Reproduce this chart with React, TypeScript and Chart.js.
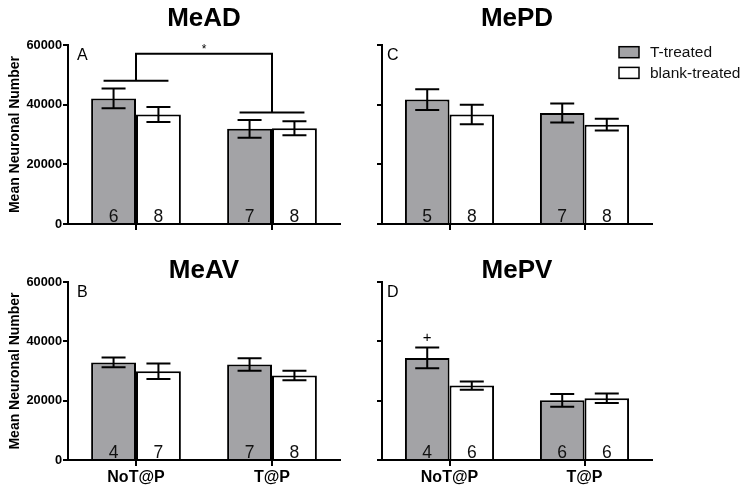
import React, { useEffect, useRef } from 'react';
import { Chart, registerables } from 'chart.js';

Chart.register(...registerables);

const FONT = '"Liberation Sans", Arial, Helvetica, sans-serif';
Chart.defaults.font.family = FONT;

// ---- data ----
const categories = ['NoT@P', 'T@P'];
const seriesNames = ['T-treated', 'blank-treated'];
const yTickValues = [0, 20000, 40000, 60000];
const yAxisTitle = 'Mean Neuronal Number';

// MeAD (A)
const meadT = [42100, 31900];
const meadTErr = [3300, 3000];
const meadTN = [6, 7];
const meadB = [36700, 32100];
const meadBErr = [2550, 2350];
const meadBN = [8, 8];
// significance bracket (A): group-line levels and top level
const meadBracketLevels = [48000, 37400];
const meadBracketTop = 57100;

// MePD (C)
const mepdT = [41700, 37200];
const mepdTErr = [3500, 3200];
const mepdTN = [5, 7];
const mepdB = [36700, 33300];
const mepdBErr = [3300, 2000];
const mepdBN = [8, 8];

// MeAV (B)
const meavT = [32900, 32200];
const meavTErr = [1650, 2100];
const meavTN = [4, 7];
const meavB = [29900, 28500];
const meavBErr = [2600, 1600];
const meavBN = [7, 8];

// MePV (D)
const mepvT = [34400, 20100];
const mepvTErr = [3500, 2150];
const mepvTN = [4, 6];
const mepvB = [25100, 20800];
const mepvBErr = [1400, 1600];
const mepvBN = [6, 6];
const mepvPlusValue = 41500;

const GRAY = '#a3a3a6';

const decorPlugin = {
  id: 'decor',
  afterDatasetsDraw(chart: any) {
    const o = chart.options.plugins.decor;
    if (!o) return;
    const ctx = chart.ctx;
    const ca = chart.chartArea;
    const ys = chart.scales.y;
    ctx.save();
    ctx.strokeStyle = '#000';
    ctx.fillStyle = '#000';
    ctx.lineWidth = 2;

    // error bars & counts
    const errs = [o.tErr, o.bErr];
    const ns = [o.tN, o.bN];
    for (let d = 0; d < 2; d++) {
      const meta = chart.getDatasetMeta(d);
      meta.data.forEach((el: any, i: number) => {
        const v = chart.data.datasets[d].data[i];
        const e = errs[d][i];
        const yT = ys.getPixelForValue(v + e);
        const yB = ys.getPixelForValue(v - e);
        ctx.beginPath();
        ctx.moveTo(el.x, yT);
        ctx.lineTo(el.x, yB);
        ctx.moveTo(el.x - 12, yT);
        ctx.lineTo(el.x + 12, yT);
        ctx.moveTo(el.x - 12, yB);
        ctx.lineTo(el.x + 12, yB);
        ctx.stroke();
        ctx.font = `17.5px ${FONT}`;
        ctx.textAlign = 'center';
        ctx.textBaseline = 'alphabetic';
        ctx.fillStyle = '#111';
        ctx.fillText(String(ns[d][i]), el.x, ca.bottom - 2);
        ctx.fillStyle = '#000';
      });
    }

    // title
    ctx.font = `bold 26px ${FONT}`;
    ctx.textAlign = 'center';
    ctx.textBaseline = 'alphabetic';
    ctx.fillText(o.title, (ca.left + ca.right) / 2, o.titleBaseline);

    // panel letter
    ctx.font = `16px ${FONT}`;
    ctx.textAlign = 'left';
    ctx.fillText(o.letter, ca.left + o.letterDx, ca.top + 14.5);

    // y axis title
    if (o.yTitle) {
      ctx.save();
      ctx.translate(15, (ca.top + ca.bottom) / 2);
      ctx.rotate(-Math.PI / 2);
      ctx.font = `bold 14px ${FONT}`;
      ctx.textAlign = 'center';
      ctx.textBaseline = 'middle';
      ctx.fillText(o.yTitle, 0, 0);
      ctx.restore();
    }

    // bracket
    if (o.bracket) {
      const m0 = chart.getDatasetMeta(0).data;
      const m1 = chart.getDatasetMeta(1).data;
      const xs = chart.scales.x;
      const yTop = ys.getPixelForValue(o.bracket.top);
      const cx: number[] = [];
      o.bracket.levels.forEach((lv: number, i: number) => {
        const y = ys.getPixelForValue(lv);
        const c = xs.getPixelForValue(i);
        cx.push(c);
        ctx.beginPath();
        ctx.moveTo(m0[i].x - 10, y);
        ctx.lineTo(m1[i].x + 10, y);
        ctx.moveTo(c, y);
        ctx.lineTo(c, yTop);
        ctx.stroke();
      });
      ctx.beginPath();
      ctx.moveTo(cx[0] - 1, yTop);
      ctx.lineTo(cx[1] + 1, yTop);
      ctx.stroke();
      ctx.font = `12px ${FONT}`;
      ctx.textAlign = 'center';
      ctx.textBaseline = 'alphabetic';
      ctx.fillText('*', (cx[0] + cx[1]) / 2, yTop - 0.5);
    }

    // plus marker
    if (o.plus) {
      const el = chart.getDatasetMeta(0).data[o.plus.index];
      ctx.font = `15px ${FONT}`;
      ctx.textAlign = 'center';
      ctx.textBaseline = 'alphabetic';
      ctx.fillText('+', el.x, ys.getPixelForValue(o.plus.value) + 5);
    }

    // legend
    if (o.legend) {
      const colors = [GRAY, '#ffffff'];
      ctx.lineWidth = 1.5;
      seriesNames.forEach((name, i) => {
        const bx = o.legend.x;
        const by = o.legend.y + i * 20.7;
        ctx.fillStyle = colors[i];
        ctx.fillRect(bx, by, 20, 11);
        ctx.strokeStyle = '#000';
        ctx.strokeRect(bx, by, 20, 11);
        ctx.fillStyle = '#111';
        ctx.font = `15.5px ${FONT}`;
        ctx.textAlign = 'left';
        ctx.textBaseline = 'alphabetic';
        ctx.fillText(name, bx + 31, by + 10.5);
      });
    }
    ctx.restore();
  },
};

type PanelProps = {
  left: number; top: number; width: number; height: number;
  t: number[]; tErr: number[]; tN: number[];
  b: number[]; bErr: number[]; bN: number[];
  title: string; titleBaseline: number; letter: string; letterDx: number;
  padTop: number; padRight: number; yWidth: number; xHeight: number;
  showYLabels: boolean; showXLabels: boolean;
  bracket?: any; plus?: any; legend?: any;
};

function Panel(p: PanelProps) {
  const ref = useRef<HTMLCanvasElement>(null);
  useEffect(() => {
    const chart = new Chart(ref.current!, {
      type: 'bar',
      data: {
        labels: categories,
        datasets: [
          { label: seriesNames[0], data: p.t, backgroundColor: GRAY, borderColor: '#000', borderWidth: 2, barPercentage: 1, categoryPercentage: 0.66 },
          { label: seriesNames[1], data: p.b, backgroundColor: '#ffffff', borderColor: '#000', borderWidth: 2, barPercentage: 1, categoryPercentage: 0.66 },
        ],
      },
      options: {
        responsive: false,
        animation: false,
        devicePixelRatio: 1,
        layout: { padding: { left: 0, top: p.padTop, right: p.padRight, bottom: 0 } },
        plugins: {
          legend: { display: false },
          tooltip: { enabled: false },
          title: { display: false },
          decor: {
            tErr: p.tErr, bErr: p.bErr, tN: p.tN, bN: p.bN,
            title: p.title, titleBaseline: p.titleBaseline,
            letter: p.letter, letterDx: p.letterDx,
            yTitle: p.showYLabels ? yAxisTitle : null,
            bracket: p.bracket, plus: p.plus, legend: p.legend,
          },
        } as any,
        scales: {
          x: {
            offset: true,
            grid: { offset: false, drawOnChartArea: false, color: '#000', lineWidth: 2, tickLength: 6 },
            border: { display: true, color: '#000', width: 2 },
            ticks: { display: p.showXLabels, color: '#000', padding: 2, font: { size: 16, weight: 'bold' } },
            afterFit: (s: any) => { s.height = p.xHeight; },
          },
          y: {
            min: 0,
            max: 60000,
            afterBuildTicks: (s: any) => { s.ticks = yTickValues.map((v) => ({ value: v })); },
            grid: { drawOnChartArea: false, color: '#000', lineWidth: 2, tickLength: 5 },
            border: { display: true, color: '#000', width: 2 },
            ticks: {
              display: p.showYLabels, color: '#000', padding: 1,
              font: { size: 12.8, weight: 'bold' },
              callback: (v: any) => String(v),
            },
            afterFit: (s: any) => { s.width = p.yWidth; },
          },
        },
      },
      plugins: [decorPlugin],
    } as any);
    return () => chart.destroy();
  }, []);
  return (
    <div style={{ position: 'absolute', left: p.left, top: p.top, width: p.width, height: p.height }}>
      <canvas ref={ref} width={p.width} height={p.height} style={{ width: p.width, height: p.height, display: 'block' }} />
    </div>
  );
}

export default function App() {
  return (
    <div style={{ position: 'absolute', left: 0, top: 0, width: 751, height: 492, background: '#fff', overflow: 'hidden' }}>
      <Panel left={0} top={0} width={375} height={240}
        t={meadT} tErr={meadTErr} tN={meadTN} b={meadB} bErr={meadBErr} bN={meadBN}
        title="MeAD" titleBaseline={26} letter="A" letterDx={9}
        padTop={45} padRight={35} yWidth={68} xHeight={16}
        showYLabels={true} showXLabels={false}
        bracket={{ levels: meadBracketLevels, top: meadBracketTop }} />
      <Panel left={375} top={0} width={376} height={240}
        t={mepdT} tErr={mepdTErr} tN={mepdTN} b={mepdB} bErr={mepdBErr} bN={mepdBN}
        title="MePD" titleBaseline={26} letter="C" letterDx={5}
        padTop={45} padRight={99} yWidth={7} xHeight={16}
        showYLabels={false} showXLabels={false}
        legend={{ x: 244, y: 46.7 }} />
      <Panel left={0} top={240} width={375} height={252}
        t={meavT} tErr={meavTErr} tN={meavTN} b={meavB} bErr={meavBErr} bN={meavBN}
        title="MeAV" titleBaseline={37.5} letter="B" letterDx={9}
        padTop={42} padRight={35} yWidth={68} xHeight={32}
        showYLabels={true} showXLabels={true} />
      <Panel left={375} top={240} width={376} height={252}
        t={mepvT} tErr={mepvTErr} tN={mepvTN} b={mepvB} bErr={mepvBErr} bN={mepvBN}
        title="MePV" titleBaseline={37.5} letter="D" letterDx={5}
        padTop={42} padRight={99} yWidth={7} xHeight={32}
        showYLabels={false} showXLabels={true}
        plus={{ index: 0, value: mepvPlusValue }} />
    </div>
  );
}
